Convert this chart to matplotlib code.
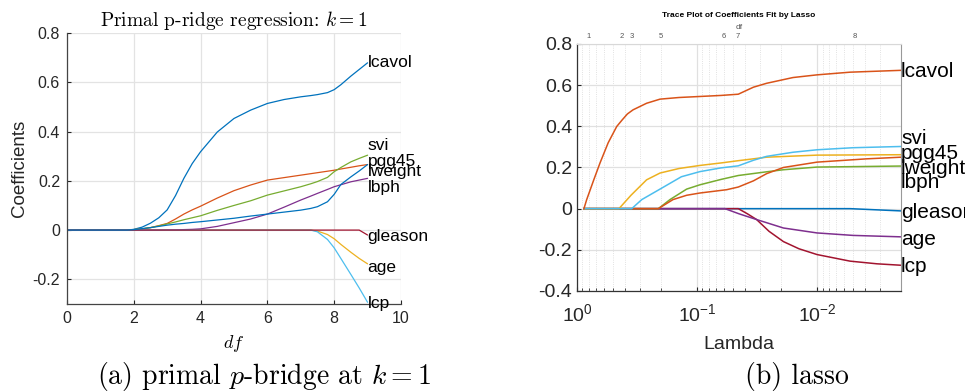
import numpy as np
import matplotlib
matplotlib.use("Agg")
import matplotlib.pyplot as plt
from matplotlib.ticker import FixedLocator, FuncFormatter, LogLocator, NullFormatter

plt.rcParams['font.family'] = ['Liberation Sans', 'DejaVu Sans']
plt.rcParams['mathtext.fontset'] = 'cm'
plt.rcParams['axes.unicode_minus'] = False

# ---------------- left panel data (primal p-ridge, k=1) ----------------
df_grid = [0, 1, 1.8, 2, 2.25, 2.5, 2.75, 3, 3.25, 3.5, 3.75, 4, 4.5, 5, 5.5, 6, 6.5, 7, 7.3, 7.5, 7.8, 8, 8.2, 8.5, 8.75, 9]
left_lcavol  = [0, 0, 0, 0.003, 0.012, 0.028, 0.05, 0.082, 0.14, 0.21, 0.27, 0.318, 0.398, 0.453, 0.487, 0.514, 0.53, 0.541, 0.546, 0.55, 0.558, 0.57, 0.59, 0.625, 0.652, 0.679]
left_lweight = [0, 0, 0, 0.002, 0.005, 0.01, 0.018, 0.027, 0.045, 0.065, 0.082, 0.097, 0.13, 0.16, 0.183, 0.203, 0.213, 0.223, 0.229, 0.233, 0.239, 0.243, 0.248, 0.255, 0.261, 0.266]
left_svi     = [0, 0, 0, 0.002, 0.005, 0.01, 0.017, 0.025, 0.033, 0.042, 0.05, 0.058, 0.08, 0.1, 0.119, 0.142, 0.159, 0.176, 0.188, 0.197, 0.214, 0.237, 0.254, 0.277, 0.291, 0.304]
left_pgg45   = [0, 0, 0, 0.002, 0.006, 0.01, 0.015, 0.02, 0.024, 0.027, 0.031, 0.034, 0.041, 0.048, 0.057, 0.065, 0.073, 0.081, 0.088, 0.095, 0.115, 0.145, 0.185, 0.216, 0.24, 0.266]
left_lbph    = [0, 0, 0, 0, 0, 0, 0, 0.001, 0.001, 0.002, 0.003, 0.005, 0.015, 0.03, 0.045, 0.065, 0.093, 0.122, 0.138, 0.149, 0.165, 0.176, 0.184, 0.196, 0.203, 0.21]
left_gleason = [0, 0, 0, 0, 0, 0, 0, 0, 0, 0, 0, 0, 0, 0, 0, 0, 0, 0, 0, 0, 0, 0, 0, 0, 0, -0.02]
left_age     = [0, 0, 0, 0, 0, 0, 0, 0, 0, 0, 0, 0, 0, 0, 0, 0, 0, 0, 0, -0.004, -0.018, -0.035, -0.058, -0.09, -0.115, -0.137]
left_lcp     = [0, 0, 0, 0, 0, 0, 0, 0, 0, 0, 0, 0, 0, 0, 0, 0, 0, 0, 0, -0.007, -0.038, -0.072, -0.115, -0.18, -0.235, -0.293]

left_series = [
    ("lcavol", left_lcavol, "#0072BD", 0.68),
    ("lweight", left_lweight, "#D95319", 0.236),
    ("age", left_age, "#EDB120", -0.15),
    ("lbph", left_lbph, "#7E2F8E", 0.174),
    ("svi", left_svi, "#77AC30", 0.345),
    ("lcp", left_lcp, "#4DBEEE", -0.296),
    ("gleason", left_gleason, "#A2142F", -0.028),
    ("pgg45", left_pgg45, "#0072BD", 0.277),
]
left_xticks = [0, 2, 4, 6, 8, 10]
left_yticks = [-0.2, 0, 0.2, 0.4, 0.6, 0.8]
left_ytick_labels = ["-0.2", "0", "0.2", "0.4", "0.6", "0.8"]

# ---------------- right panel data (lasso trace, log10 lambda) ----------------
r_lcavol_x = [-0.058, -0.081, -0.14, -0.192, -0.26, -0.331, -0.375, -0.42, -0.467, -0.58, -0.692, -0.85, -1.025, -1.2, -1.344, -1.47, -1.58, -1.8, -2.0, -2.275, -2.7]
r_lcavol_y = [0, 0.044, 0.14, 0.222, 0.32, 0.399, 0.43, 0.46, 0.48, 0.512, 0.532, 0.54, 0.545, 0.55, 0.556, 0.59, 0.609, 0.637, 0.65, 0.663, 0.672]
r_svi_x = [-0.058, -0.456, -0.54, -0.692, -0.87, -1.025, -1.2, -1.344, -1.47, -1.58, -1.8, -2.0, -2.3, -2.7]
r_svi_y = [0, 0, 0.044, 0.095, 0.155, 0.18, 0.198, 0.208, 0.235, 0.254, 0.274, 0.286, 0.296, 0.302]
r_pgg45_x = [-0.058, -0.35, -0.45, -0.58, -0.692, -0.85, -1.025, -1.2, -1.344, -1.58, -2.0, -2.7]
r_pgg45_y = [0, 0, 0.065, 0.14, 0.173, 0.195, 0.21, 0.222, 0.233, 0.25, 0.26, 0.262]
r_lweight_x = [-0.058, -0.678, -0.8, -0.914, -1.025, -1.247, -1.344, -1.47, -1.58, -1.72, -2.0, -2.414, -2.7]
r_lweight_y = [0, 0, 0.044, 0.065, 0.076, 0.092, 0.105, 0.135, 0.17, 0.2, 0.226, 0.242, 0.25]
r_lbph_x = [-0.058, -0.678, -0.775, -0.914, -1.025, -1.2, -1.344, -1.58, -1.72, -2.0, -2.7]
r_lbph_y = [0, 0, 0.044, 0.095, 0.116, 0.142, 0.161, 0.179, 0.189, 0.202, 0.207]
r_gleason_x = [-0.058, -2.275, -2.7]
r_gleason_y = [0, 0, -0.011]
r_age_x = [-0.058, -1.233, -1.35, -1.497, -1.72, -2.0, -2.3, -2.7]
r_age_y = [0, 0, -0.025, -0.053, -0.094, -0.118, -0.13, -0.137]
r_lcp_x = [-0.058, -1.344, -1.42, -1.497, -1.6, -1.72, -1.85, -2.0, -2.275, -2.5, -2.7]
r_lcp_y = [0, 0, -0.025, -0.053, -0.11, -0.16, -0.195, -0.223, -0.255, -0.268, -0.275]

right_series = [
    ("gleason", r_gleason_x, r_gleason_y, "#0072BD", -0.02),
    ("lcp", r_lcp_x, r_lcp_y, "#A2142F", -0.283),
    ("age", r_age_x, r_age_y, "#7E2F8E", -0.15),
    ("lbph", r_lbph_x, r_lbph_y, "#77AC30", 0.128),
    ("lweight", r_lweight_x, r_lweight_y, "#D95319", 0.197),
    ("pgg45", r_pgg45_x, r_pgg45_y, "#EDB120", 0.267),
    ("svi", r_svi_x, r_svi_y, "#4DBEEE", 0.343),
    ("lcavol", r_lcavol_x, r_lcavol_y, "#D95319", 0.666),
]
right_yticks = [-0.4, -0.2, 0, 0.2, 0.4, 0.6, 0.8]
right_ytick_labels = ["-0.4", "-0.2", "0", "0.2", "0.4", "0.6", "0.8"]
df_tick_loglam = [-0.1, -0.375, -0.458, -0.7, -1.225, -1.342, -2.317]
df_tick_labels = ["1", "2", "3", "5", "6", "7", "8"]
lam_max_log, lam_min_log = 0.0, -2.7

fig = plt.figure(figsize=(9.65, 3.92), dpi=100)

# ================= left panel =================
axL = fig.add_axes([0.0694, 0.2245, 0.3461, 0.6913])
for name, vals, col, ly in left_series:
    axL.plot(df_grid, vals, color=col, lw=0.9, solid_capstyle='round')
for name, vals, col, ly in left_series:
    axL.text(9.0, ly, name, fontsize=12.5, va='center', ha='left', color='black', clip_on=False)
axL.set_xlim(0, 10)
axL.set_ylim(-0.3, 0.8)
axL.set_xticks(left_xticks)
axL.set_yticks(left_yticks)
axL.set_yticklabels(left_ytick_labels)
axL.grid(True, color='#e3e3e3', lw=0.9)
axL.set_axisbelow(True)
for s in ['top', 'right']:
    axL.spines[s].set_visible(False)
for s in ['left', 'bottom']:
    axL.spines[s].set_color('#444444')
    axL.spines[s].set_linewidth(0.9)
axL.tick_params(direction='in', length=3, labelsize=11.5, colors='#262626', pad=5)
axL.set_ylabel("Coefficients", fontsize=13.5, color='#262626', labelpad=3)
axL.set_xlabel("$df$", fontsize=13, labelpad=5)
axL.set_title(r"Primal p-ridge regression: $k=1$", fontsize=14, family='cmr10', pad=5)

# ================= right panel =================
axR = fig.add_axes([0.5979, 0.2577, 0.3358, 0.6301])
axR.set_xscale('log')
for name, xs, ys, col, ly in right_series:
    axR.plot(10 ** np.array(xs), ys, color=col, lw=1.1)
for name, xs, ys, col, ly in right_series:
    axR.text(10 ** lam_min_log, ly, name, fontsize=15, va='center', ha='left', clip_on=False)
axR.set_xlim(10 ** lam_max_log, 10 ** lam_min_log)
axR.set_ylim(-0.4, 0.8)
axR.set_yticks(right_yticks)
axR.set_yticklabels(right_ytick_labels)
axR.xaxis.set_major_locator(LogLocator(base=10, numticks=10))
axR.xaxis.set_minor_locator(LogLocator(base=10, subs=np.arange(2, 10), numticks=20))
axR.xaxis.set_major_formatter(FuncFormatter(lambda v, p: r"$\mathregular{10^{%d}}$" % int(round(np.log10(v)))))
axR.xaxis.set_minor_formatter(NullFormatter())
axR.grid(True, which='major', color='#e0e0e0', lw=0.9)
axR.grid(True, which='minor', axis='x', color='#d8d8d8', lw=0.6, ls=':')
axR.set_axisbelow(True)
axR.spines['top'].set_color('#d8d8d8')
axR.spines['right'].set_color('#999999')
for s in ['left', 'bottom']:
    axR.spines[s].set_color('#333333')
    axR.spines[s].set_linewidth(0.9)
axR.tick_params(which='both', direction='in', labelsize=14, colors='#262626', top=False, right=False)
axR.tick_params(axis='x', pad=9)
axR.tick_params(which='major', length=3)
axR.tick_params(which='minor', length=2)
axR.set_xlabel("Lambda", fontsize=14, color='#262626', labelpad=8)

axT = axR.twiny()
axT.set_xscale('log')
axT.set_xlim(axR.get_xlim())
axT.set_xticks(10 ** np.array(df_tick_loglam))
axT.set_xticklabels(df_tick_labels)
axT.xaxis.set_minor_locator(FixedLocator([]))
axT.tick_params(axis='x', length=0, labelsize=5.5, colors='#555555', pad=3)
for s in axT.spines.values():
    s.set_visible(False)
axT.set_xlabel("df", fontsize=6, color='#555555', labelpad=3)
axT.set_title("Trace Plot of Coefficients Fit by Lasso", fontsize=6, fontweight='bold', pad=5)

# ================= captions =================
fig.text(0.274, 0.040, r"(a) primal $p$-bridge at $k=1$", fontsize=20, family='cmr10', ha='center', va='center')
fig.text(0.826, 0.040, "(b) lasso", fontsize=20, family='cmr10', ha='center', va='center')

fig.savefig("out.png", dpi=100)
